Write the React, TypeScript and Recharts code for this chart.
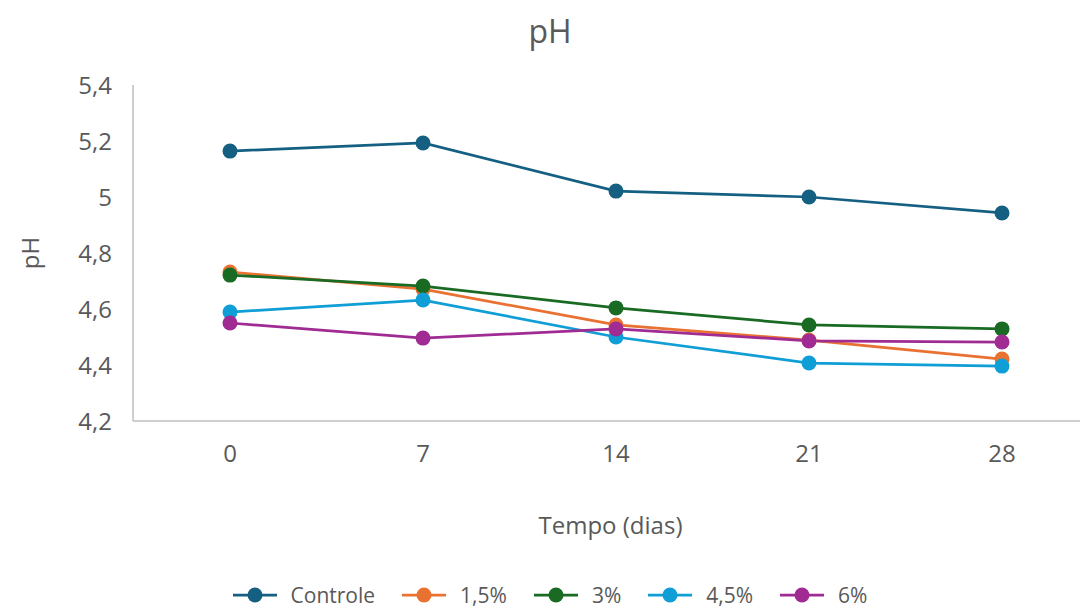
import React from 'react';
import { LineChart, Line, XAxis, YAxis, Legend, Label } from 'recharts';

const days = ['0', '7', '14', '21', '28'];
const controle = [5.164, 5.193, 5.021, 5.0, 4.943];
const p15 = [4.732, 4.671, 4.543, 4.489, 4.421];
const p3 = [4.721, 4.682, 4.604, 4.543, 4.529];
const p45 = [4.589, 4.632, 4.5, 4.407, 4.396];
const p6 = [4.55, 4.496, 4.529, 4.486, 4.482];
const yTicks = [4.2, 4.4, 4.6, 4.8, 5.0, 5.2, 5.4];

const seriesNames = ['Controle', '1,5%', '3%', '4,5%', '6%'];
const seriesColors = ['#156082', '#E97132', '#196B24', '#0F9ED5', '#A02B93'];
const seriesValues = [controle, p15, p3, p45, p6];

const data = days.map((d, i) => {
  const row: Record<string, string | number> = { day: d };
  seriesNames.forEach((n, s) => {
    row[n] = seriesValues[s][i];
  });
  return row;
});

const FONT = '"Open Sans", "Liberation Sans", sans-serif';
const GREY = '#595959';

const fmt = (v: number) => String(Number(v.toFixed(1))).replace('.', ',');

const LegendContent = () => (
  <div style={{ display: 'flex', justifyContent: 'center', alignItems: 'center', fontFamily: FONT, fontSize: 21, lineHeight: '24px', color: GREY, height: 26, paddingLeft: 4 }}>
    {seriesNames.map((n, i) => (
      <div key={n} style={{ display: 'flex', alignItems: 'center', marginRight: i < seriesNames.length - 1 ? 27 : 0 }}>
        <svg width={44} height={16} style={{ marginRight: 14 }}>
          <line x1={0} y1={8} x2={44} y2={8} stroke={seriesColors[i]} strokeWidth={2.75} />
          <circle cx={22} cy={8} r={7.5} fill={seriesColors[i]} />
        </svg>
        <span>{n}</span>
      </div>
    ))}
  </div>
);

export default function App() {
  return (
    <div style={{ position: 'relative', width: 1080, height: 600, background: '#fff' }}>
      <div style={{ position: 'absolute', top: 1, left: 0, width: 1080, textAlign: 'center', fontFamily: FONT, fontSize: 32, color: GREY, paddingLeft: 2 }}>
        pH
      </div>
      <LineChart width={1080} height={600} data={data} margin={{ top: 77, right: 0, left: 0, bottom: 0 }}>
        <XAxis
          dataKey="day"
          padding={{ left: 97, right: 86 }}
          axisLine={{ stroke: '#BFBFBF', strokeWidth: 1.5 }}
          tickLine={false}
          tickMargin={18}
          height={161}
          tick={{ fill: GREY, fontSize: 24, fontFamily: FONT }}
        >
          <Label value="Tempo (dias)" position="insideBottom" offset={48} style={{ fill: GREY, fontSize: 24, fontFamily: FONT }} />
        </XAxis>
        <YAxis
          domain={[4.2, 5.4]}
          ticks={yTicks}
          width={125}
          tickFormatter={fmt}
          axisLine={{ stroke: '#BFBFBF', strokeWidth: 1.5 }}
          tickLine={false}
          tickMargin={15}
          interval={0}
          tick={{ fill: GREY, fontSize: 24, fontFamily: FONT }}
        >
          <Label
            content={(props: any) => {
              const vb = props.viewBox || {};
              const x = (vb.x || 0) + 21;
              const y = (vb.y || 0) + (vb.height || 0) / 2;
              return (
                <text x={x} y={y} transform={`rotate(-90, ${x}, ${y})`} textAnchor="middle" dominantBaseline="central" fill={GREY} fontSize={24} fontFamily={FONT}>
                  pH
                </text>
              );
            }}
          />
        </YAxis>
        <Legend verticalAlign="bottom" content={<LegendContent />} wrapperStyle={{ height: 26 }} />
        {seriesNames.map((n, s) => (
          <Line
            key={n}
            dataKey={n}
            name={n}
            stroke={seriesColors[s]}
            strokeWidth={2.75}
            dot={{ r: 7.5, fill: seriesColors[s], stroke: seriesColors[s], strokeWidth: 0 }}
            activeDot={false}
            isAnimationActive={false}
          />
        ))}
      </LineChart>
    </div>
  );
}
